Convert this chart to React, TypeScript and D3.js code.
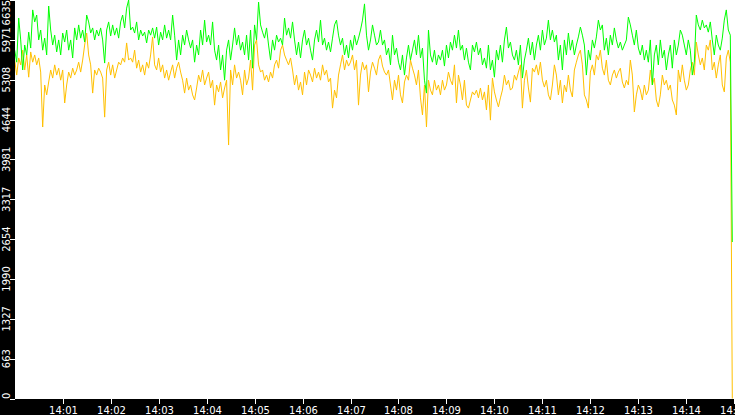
import React from "react";
import * as d3 from "d3";

const W = 735;
const H = 415;

// Series values (one sample every 2.5 s from 14:00:00)
const greenSeries = [
  5800,5600,6335,5970,5470,5885,5720,6100,5835,6470,
  6270,6385,5970,6135,5800,6000,5720,6535,6135,5885,
  6050,5770,5970,5720,6085,5935,6135,5800,5970,5670,
  6170,5970,6220,6000,6135,5935,6385,6270,6085,6170,
  5970,6135,6035,6170,5970,5585,6135,6270,6035,6220,
  6050,6170,6000,6270,6385,6170,6500,6635,6135,6185,
  6085,6270,5970,6135,6035,6100,5920,6135,6050,6170,
  6000,6185,5885,6100,5970,6220,6000,6135,5970,6385,
  6050,5635,5970,5720,6050,5885,6135,5970,5835,5970,
  5600,5885,5720,6135,5885,6300,5935,6050,5885,6270,
  5800,5635,5885,5470,5720,5300,5800,5970,5635,5885,
  6170,5885,6050,5800,5935,5720,6050,5635,6135,5500,
  6220,5970,6600,6220,6100,6000,6170,5885,5635,5970,
  5800,6050,5935,6000,5885,6335,6050,6170,6000,6270,
  5970,5720,5935,5670,5970,6135,5885,6000,5800,5635,
  5970,6135,5935,6300,5885,6000,5800,5935,5770,6000,
  6220,6300,6050,5885,6000,5720,5885,5670,5970,5800,
  6050,5885,6000,6135,6300,6570,6050,5800,5970,6220,
  6050,5885,5935,6135,5885,5970,5720,5835,5555,6050,
  5720,5835,5600,5470,5720,5385,5670,5885,5635,5800,
  5970,5720,6050,5670,5835,5300,5085,6135,5720,5600,
  5800,5555,5720,5635,5800,5535,5885,5670,5935,5800,
  6050,5835,6135,5800,5885,5635,5835,5600,5470,5885,
  5770,5935,5720,5835,5555,5670,5500,5885,5470,5635,
  5350,5800,5635,5885,5600,5970,6185,5835,5935,5720,
  5635,5800,5555,5885,5335,5635,5800,6000,5720,5935,
  5635,5885,6050,5800,6135,5885,6000,6300,5970,6135,
  5935,6050,5635,5885,5470,5970,5720,6085,5800,5970,
  5720,5885,6020,6185,6050,5885,5385,5800,5635,5970,
  5835,6020,6300,6135,6220,5800,6000,5720,6050,5885,
  6170,5970,5835,5935,5800,5885,5970,6350,6220,6050,
  5885,6135,5835,5720,5885,5635,5800,5600,5970,5220,
  5720,5885,5555,5970,5670,5800,5470,5720,5885,5500,
  5970,5720,5885,6135,6050,5885,5720,5970,5800,5385,
  5600,6385,6220,6135,6300,6170,6220,6100,6270,5970,
  5720,6050,5885,5800,6000,6300,6470,6135,6050,2605,
];

const yellowSeries = [
  5635,5385,5670,5555,5800,5470,5720,5350,5770,5600,
  5720,5555,5670,5435,4520,5220,5055,5270,5470,5335,
  5555,5385,5500,5300,5470,4920,5220,5435,5335,5500,
  5385,5470,5600,5435,5635,5885,6085,5720,5555,5085,
  5470,5385,5500,5435,5335,4685,5470,5600,5385,5555,
  5335,5470,5600,5555,5670,5600,5920,5635,5670,5600,
  5800,5500,5635,5435,5555,5385,5600,5500,5720,6020,
  5555,5470,5670,5435,5555,5335,5470,5300,5435,5555,
  5335,5500,5600,5435,5300,5085,5335,5135,5220,5055,
  4970,5170,5385,5270,5470,5220,5335,5435,5170,5300,
  4885,5220,5105,5270,5005,5170,5300,4220,5470,5220,
  5555,5335,5435,5300,5055,5470,5220,5335,5635,5135,
  5885,5970,5555,5435,5470,5300,5385,5270,5435,5335,
  5555,5635,5500,5800,5885,5720,5635,5555,5670,5470,
  5220,5385,5135,5270,5055,5435,5220,5470,5385,5270,
  5500,5335,5435,5300,5555,5385,5470,5270,5335,4835,
  5135,5005,5385,5555,5720,5470,5635,5535,5600,5720,
  5470,5635,4885,5385,5600,5470,5555,5105,5435,5600,
  5500,5385,5635,5720,5535,5435,5385,5470,5220,4970,
  5300,5135,5385,5055,4920,5270,5385,5300,5635,5500,
  5385,5220,5470,5005,4720,5220,4520,5300,5135,5055,
  5300,5135,5220,5055,5300,5135,5220,5435,5300,5220,
  5555,4920,5385,5220,4970,5300,4885,4835,4970,5105,
  5055,5135,5005,5170,4970,5105,4805,5220,4635,5335,
  5105,4970,4855,5005,5135,5385,5220,5300,5135,5170,
  5385,5300,5435,5555,4835,5300,5470,5170,4935,5500,
  5435,5555,5385,5600,5300,5185,5300,5055,4970,5220,
  5555,5385,5055,5300,4920,5220,5105,5385,5135,5020,
  5470,5600,5720,5800,5555,5055,4970,4835,5435,5555,
  5385,5720,5635,5800,5500,5385,5635,5300,5220,5385,
  5470,5335,5435,5500,5270,5170,5300,5220,5635,5385,
  4770,5055,5220,5135,4970,5220,5055,5135,5470,5220,
  5335,4970,4855,5055,5385,5220,5300,5135,5220,4970,
  4885,4720,5470,5270,5555,5300,5135,5220,5470,5600,
  5385,5935,5720,5555,5670,5470,5885,5800,5970,5470,
  5600,5335,5555,5720,5220,5105,5670,5800,5600,0,
];

const yTickValues = [0, 663.5, 1327, 1990.5, 2654, 3317.5, 3981, 4644.5, 5308, 5971.5, 6635];
const yTickLabels = ["0", "663", "1327", "1990", "2654", "3317", "3981", "4644", "5308", "5971", "6635"];
const xTickLabels = [
  "14:01", "14:02", "14:03", "14:04", "14:05", "14:06", "14:07",
  "14:08", "14:09", "14:10", "14:11", "14:12", "14:13", "14:14", "14:15",
];

const START = new Date(2000, 0, 1, 14, 0, 0);
const END = new Date(2000, 0, 1, 14, 15, 0);
const SAMPLE_MS = 2500;

const PLOT_LEFT = 15;
const PLOT_BOTTOM = 399;

export default function App() {
  const x = d3.scaleTime().domain([START, END]).range([14.7, 734.3]);
  const y = d3.scaleLinear().domain([0, 6635]).range([398.5, 0]);

  const toPoints = (vals: number[]) =>
    vals.map((v, i) => ({ t: new Date(START.getTime() + i * SAMPLE_MS), v }));

  const line = d3
    .line<{ t: Date; v: number }>()
    .x((d) => x(d.t))
    .y((d) => y(d.v));

  const greenPath = line(toPoints(greenSeries)) || "";
  const yellowPath = line(toPoints(yellowSeries)) || "";

  const font = { fontFamily: "DejaVu Sans", fontSize: 10 };
  const labelW = (s: string) => s.length * 6.36;

  return (
    <svg
      width={W}
      height={H}
      style={{ position: "absolute", left: 0, top: 0, display: "block" }}
    >
      <defs>
        <clipPath id="plotClip">
          <rect x={PLOT_LEFT} y={0} width={W - PLOT_LEFT} height={PLOT_BOTTOM} />
        </clipPath>
      </defs>
      <rect x={0} y={0} width={W} height={H} fill="#ffffff" />
      <g clipPath="url(#plotClip)">
        <path d={yellowPath} fill="none" stroke="#ffc000" strokeWidth={1} />
        <path d={greenPath} fill="none" stroke="#00ff00" strokeWidth={1} />
      </g>
      <rect x={0} y={0} width={PLOT_LEFT} height={H} fill="#000000" />
      <rect x={0} y={PLOT_BOTTOM} width={W} height={H - PLOT_BOTTOM} fill="#000000" />
      {yTickValues.map((v, i) => {
        const ty = Math.round(y(v)) + 0.5;
        const w = labelW(yTickLabels[i]);
        const cy = Math.min(Math.max(y(v), w / 2), PLOT_BOTTOM - w / 2);
        return (
          <g key={"y" + i}>
            <line x1={10} x2={15} y1={ty} y2={ty} stroke="#ffffff" strokeWidth={1} />
            <text
              transform={`translate(9.5,${cy}) rotate(-90)`}
              textAnchor="middle"
              fill="#ffffff"
              {...font}
            >
              {yTickLabels[i]}
            </text>
          </g>
        );
      })}
      {xTickLabels.map((lab, i) => {
        const [hh, mm] = lab.split(":").map(Number);
        const tx = Math.round(x(new Date(2000, 0, 1, hh, mm, 0))) + 0.5;
        return (
          <g key={"x" + i}>
            <line x1={tx} x2={tx} y1={PLOT_BOTTOM} y2={PLOT_BOTTOM + 5} stroke="#ffffff" strokeWidth={1} />
            <text x={tx} y={413.5} textAnchor="middle" fill="#ffffff" {...font}>
              {lab}
            </text>
          </g>
        );
      })}
    </svg>
  );
}
